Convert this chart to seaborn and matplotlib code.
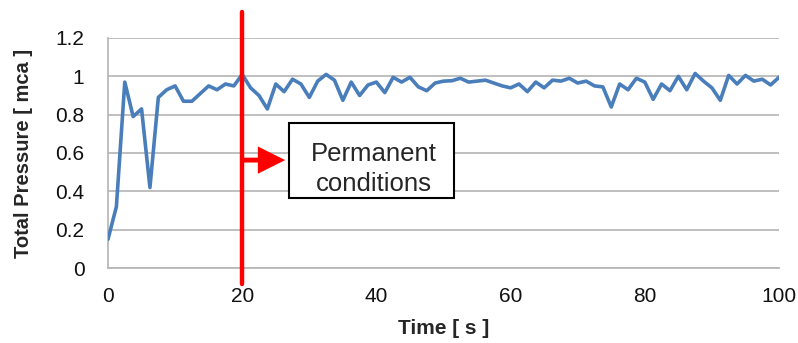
import numpy as np
import pandas as pd
import matplotlib
matplotlib.use("Agg")
import matplotlib.pyplot as plt
import seaborn as sns
from matplotlib.patches import Rectangle

# sampling every 1.25 s from 0 to 100 s
time_s = np.linspace(0, 100, 81)
pressure = [
    0.15, 0.32, 0.97, 0.79, 0.83, 0.42, 0.89, 0.93, 0.95, 0.87,
    0.87, 0.91, 0.95, 0.93, 0.96, 0.95, 1.01, 0.94, 0.90, 0.83,
    0.96, 0.92, 0.985, 0.96, 0.89, 0.975, 1.01, 0.98, 0.875, 0.97,
    0.90, 0.955, 0.97, 0.915, 0.995, 0.97, 0.995, 0.945, 0.925, 0.965,
    0.975, 0.977, 0.99, 0.97, 0.975, 0.98, 0.965, 0.95, 0.94, 0.96,
    0.92, 0.97, 0.94, 0.98, 0.975, 0.99, 0.965, 0.975, 0.95, 0.945,
    0.84, 0.96, 0.93, 0.99, 0.97, 0.88, 0.96, 0.925, 1.0, 0.93,
    1.015, 0.975, 0.94, 0.875, 1.005, 0.96, 1.005, 0.975, 0.985, 0.955,
    0.995,
]
x_ticks = [0, 20, 40, 60, 80, 100]
y_ticks = [0, 0.2, 0.4, 0.6, 0.8, 1.0, 1.2]
y_tick_labels = ["0", "0.2", "0.4", "0.6", "0.8", "1", "1.2"]
steady_start = 20
box_text = "Permanent\nconditions"

df = pd.DataFrame({"Time": time_s, "Pressure": pressure})

sns.set_style("white")
plt.rcParams["font.family"] = ["Liberation Sans", "DejaVu Sans"]

fig = plt.figure(figsize=(7.98, 3.43), dpi=100)
ax = fig.add_axes([108 / 798, 1 - 268 / 343, 671 / 798, 230 / 343])

grid_col = "#b4b4b4"
ax.set_xlim(0, 100)
ax.set_ylim(0, 1.2)
ax.set_yticks(y_ticks)
ax.set_yticklabels(y_tick_labels)
ax.set_xticks(x_ticks)
ax.yaxis.grid(True, color=grid_col, lw=1.2)
ax.set_axisbelow(True)

sns.lineplot(data=df, x="Time", y="Pressure", ax=ax, color="#4a7ebb",
             lw=2.6, zorder=3)

for side in ["top", "right"]:
    ax.spines[side].set_visible(False)
for side in ["left", "bottom"]:
    ax.spines[side].set_color(grid_col)
    ax.spines[side].set_linewidth(1.2)

ax.tick_params(axis="y", direction="out", length=5, color=grid_col,
               labelsize=15, pad=12, labelcolor="#111111")
ax.tick_params(axis="x", direction="out", length=4, color=grid_col,
               labelsize=15, pad=10, labelcolor="#111111")

ax.set_xlabel("Time [ s ]", fontsize=15, fontweight="bold")
ax.set_ylabel("Total Pressure [ mca ]", fontsize=14.5, fontweight="bold")
ax.xaxis.set_label_coords(0.5, -0.265)
ax.xaxis.label.set_va("center")
ax.yaxis.set_label_coords(-0.126, 0.5)
ax.yaxis.label.set_va("center")

# red marker of the start of permanent conditions
ax.axvline(steady_start, ymin=-0.07, ymax=1.113, color="#ff0000", lw=3.2,
           clip_on=False, zorder=4)
ax.annotate("", xy=(26.4, 0.563), xytext=(steady_start, 0.563),
            arrowprops=dict(arrowstyle="-|>,head_length=0.7,head_width=0.35",
                            color="#ff0000", lw=3.5, mutation_scale=20,
                            shrinkA=0, shrinkB=0, joinstyle="miter",
                            capstyle="butt"),
            zorder=5)

box = Rectangle((27.0, 0.365), 24.6, 0.391, facecolor="white",
                edgecolor="black", lw=1.5, zorder=5)
ax.add_patch(box)
txt = ax.text(39.6, 0.515, box_text, ha="center", va="center",
              fontsize=18.5, linespacing=1.3, zorder=6)
txt.set_clip_path(box)

fig.savefig("out.png", dpi=100)
